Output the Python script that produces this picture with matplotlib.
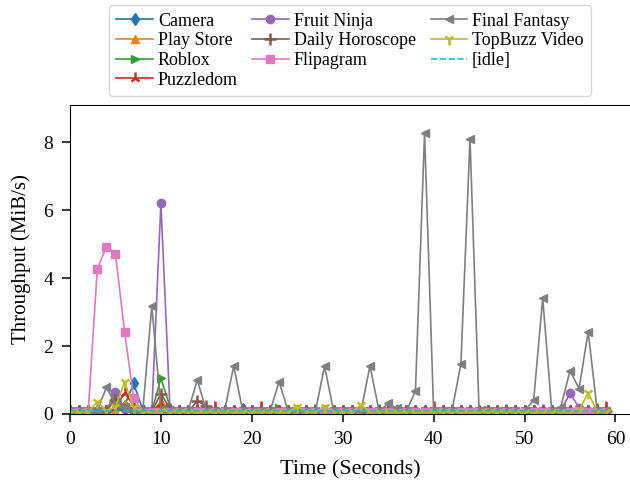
import matplotlib
matplotlib.use("Agg")
from matplotlib import pyplot as plt

plt.rcParams['font.family'] = ['Liberation Serif', 'DejaVu Serif']

t = list(range(60))

camera = [0.08,0.08,0.08,0.08,0.1,0.15,0.25,0.9,0.12,0.08,
          0.12,0.1,0.08,0.08,0.1,0.08,0.08,0.1,0.08,0.15,
          0.08,0.08,0.1,0.08,0.08,0.08,0.1,0.08,0.08,0.08,
          0.08,0.1,0.08,0.08,0.08,0.08,0.08,0.08,0.08,0.08,
          0.08,0.08,0.08,0.08,0.08,0.08,0.08,0.1,0.08,0.08,
          0.08,0.08,0.08,0.08,0.08,0.08,0.1,0.08,0.08,0.08]
play_store = [0.07,0.07,0.07,0.07,0.07,0.1,0.3,0.15,0.07,0.07,
              0.35,0.12,0.07,0.07,0.07,0.07,0.07,0.07,0.07,0.07,
              0.07,0.07,0.07,0.07,0.07,0.07,0.07,0.07,0.07,0.07,
              0.07,0.07,0.07,0.07,0.07,0.07,0.07,0.07,0.07,0.07,
              0.07,0.07,0.07,0.07,0.07,0.07,0.07,0.07,0.07,0.07,
              0.07,0.07,0.07,0.07,0.07,0.07,0.07,0.07,0.07,0.07]
roblox = [0.08,0.08,0.08,0.08,0.1,0.45,0.2,0.1,0.08,0.08,
          1.05,0.22,0.08,0.08,0.1,0.15,0.08,0.08,0.08,0.08,
          0.08,0.08,0.08,0.18,0.08,0.08,0.08,0.08,0.08,0.08,
          0.08,0.08,0.08,0.08,0.08,0.08,0.08,0.08,0.08,0.08,
          0.08,0.08,0.08,0.08,0.08,0.08,0.12,0.08,0.08,0.08,
          0.08,0.08,0.08,0.08,0.08,0.08,0.08,0.08,0.08,0.08]
puzzledom = [0.08,0.08,0.08,0.08,0.08,0.2,0.62,0.25,0.08,0.08,
             0.3,0.1,0.08,0.08,0.1,0.08,0.2,0.08,0.08,0.08,
             0.08,0.2,0.08,0.08,0.1,0.08,0.08,0.08,0.08,0.1,
             0.08,0.08,0.1,0.08,0.08,0.08,0.08,0.08,0.08,0.1,
             0.2,0.08,0.08,0.08,0.08,0.08,0.1,0.08,0.08,0.08,
             0.08,0.08,0.08,0.1,0.08,0.08,0.08,0.08,0.08,0.2]
fruit_ninja = [0.08,0.08,0.08,0.08,0.1,0.66,0.15,0.08,0.08,0.08,
               6.2,0.12,0.08,0.08,0.08,0.08,0.08,0.08,0.08,0.08,
               0.08,0.08,0.08,0.08,0.08,0.08,0.08,0.08,0.08,0.08,
               0.08,0.08,0.08,0.08,0.08,0.08,0.08,0.08,0.08,0.08,
               0.08,0.08,0.08,0.08,0.08,0.08,0.08,0.08,0.08,0.08,
               0.08,0.08,0.08,0.08,0.1,0.61,0.19,0.08,0.08,0.08]
horoscope = [0.08,0.08,0.08,0.08,0.1,0.4,0.15,0.08,0.08,0.08,
             0.6,0.15,0.08,0.08,0.38,0.24,0.1,0.08,0.08,0.08,
             0.08,0.12,0.08,0.08,0.08,0.08,0.08,0.12,0.08,0.08,
             0.08,0.08,0.08,0.08,0.12,0.08,0.08,0.08,0.08,0.08,
             0.08,0.08,0.12,0.08,0.08,0.08,0.08,0.08,0.12,0.08,
             0.08,0.08,0.12,0.08,0.08,0.08,0.08,0.08,0.15,0.08]
flipagram = [0.06,0.06,0.06,4.26,4.92,4.72,2.42,0.48,0.06,0.06,
             0.06,0.06,0.06,0.06,0.06,0.06,0.06,0.06,0.06,0.06,
             0.06,0.06,0.06,0.06,0.06,0.06,0.06,0.06,0.06,0.06,
             0.06,0.06,0.06,0.06,0.06,0.06,0.06,0.06,0.06,0.06,
             0.06,0.06,0.06,0.06,0.06,0.06,0.06,0.06,0.06,0.06,
             0.06,0.06,0.06,0.06,0.06,0.06,0.1,0.06,0.06,0.06]
final_fantasy = [0.08,0.08,0.08,0.1,0.78,0.3,0.2,0.1,0.08,3.18,
                 0.15,0.1,0.08,0.1,1.0,0.1,0.08,0.08,1.41,0.1,
                 0.08,0.08,0.08,0.95,0.08,0.08,0.08,0.08,1.41,0.08,
                 0.08,0.08,0.08,1.42,0.08,0.31,0.17,0.08,0.68,8.27,
                 0.08,0.08,0.08,1.47,8.1,0.08,0.08,0.08,0.08,0.08,
                 0.08,0.41,3.4,0.08,0.22,1.27,0.75,2.42,0.08,0.08]
topbuzz = [0.06,0.06,0.06,0.36,0.1,0.2,0.95,0.2,0.06,0.06,
           0.1,0.06,0.06,0.06,0.06,0.06,0.06,0.06,0.06,0.06,
           0.06,0.06,0.06,0.06,0.06,0.22,0.06,0.06,0.2,0.06,
           0.06,0.06,0.27,0.06,0.06,0.06,0.06,0.06,0.06,0.06,
           0.06,0.06,0.06,0.06,0.06,0.06,0.06,0.06,0.06,0.06,
           0.06,0.06,0.06,0.06,0.06,0.06,0.1,0.63,0.06,0.06]
idle_t = [0, 59]
idle = [0.1, 0.1]

series = [("Camera", camera, "C0", "d"),
          ("Play Store", play_store, "C1", "^"),
          ("Roblox", roblox, "C2", ">"),
          ("Puzzledom", puzzledom, "C3", "2"),
          ("Fruit Ninja", fruit_ninja, "C4", "o"),
          ("Daily Horoscope", horoscope, "C5", "+"),
          ("Flipagram", flipagram, "C6", "s"),
          ("Final Fantasy", final_fantasy, "C7", "<"),
          ("TopBuzz Video", topbuzz, "C8", "1")]

fig = plt.figure(figsize=(6.3, 4.87), dpi=100)
ax = fig.add_axes([70/630, 73/487, 560/630, 309/487])

for name, vals, c, m in series:
    if m in ("+", "1", "2"):
        ax.plot(t, vals, color=c, marker=m, markersize=8, mew=1.8, lw=1.2, label=name)
    else:
        ax.plot(t, vals, color=c, marker=m, markersize=6, lw=1.2, label=name)
ax.plot(idle_t, idle, color="C9", ls="--", lw=1.2, label="[idle]")

ax.set_xlim(0, 61.6)
ax.set_ylim(0, 9.09)
ax.set_xticks([0, 10, 20, 30, 40, 50, 60])
ax.set_yticks([0, 2, 4, 6, 8])
ax.spines['right'].set_visible(False)
ax.tick_params(labelsize=14, length=6, width=1.1, pad=6)
ax.set_xlabel("Time (Seconds)", fontsize=16, labelpad=9)
ax.set_ylabel("Throughput (MiB/s)", fontsize=15, labelpad=9)
ax.legend(ncol=3, loc="lower center", bbox_to_anchor=(0.5, 1.0), fontsize=13,
          labelspacing=0.15, handletextpad=0.3, columnspacing=0.8, borderpad=0.4)

fig.savefig("out.png", dpi=100)
